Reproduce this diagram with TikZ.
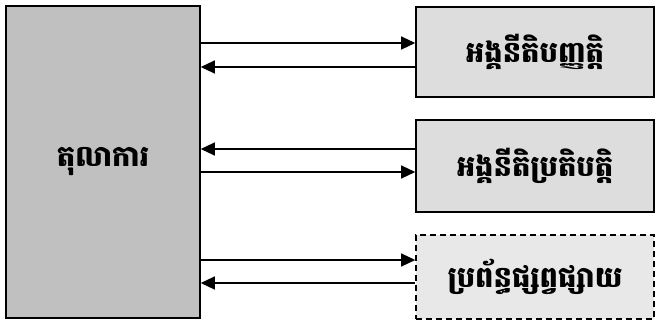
\documentclass[tikz,border=0pt]{standalone}
\usepackage{fontspec}
\newfontfamily\khmer[Script=Khmer]{Battambang}
\usetikzlibrary{arrows.meta}
\definecolor{leftgray}{HTML}{C0C0C0}
\definecolor{rightgray}{HTML}{DDDDDD}
\definecolor{mediagray}{HTML}{E8E8E8}
\tikzset{
  box/.style={draw=black, line width=1.6pt, inner sep=0pt, font=\khmer\bfseries\fontsize{29}{34}\selectfont},
  conn/.style={line width=1.3pt, -{Triangle[length=14pt,width=13pt]}},
}
\begin{document}
\begin{tikzpicture}[x=1pt,y=-1pt]
\useasboundingbox (0,0) rectangle (656,324);
\node[box, fill=leftgray, minimum width=194pt, minimum height=312pt] (court) at (103,162) {តុលាការ};
\node[box, fill=rightgray, minimum width=238pt, minimum height=90pt] (leg) at (535,52) {អង្គនីតិបញ្ញត្តិ};
\node[box, fill=rightgray, minimum width=238pt, minimum height=92pt] (exe) at (535,166) {អង្គនីតិប្រតិបត្តិ};
\node[box, dashed, dash pattern=on 6pt off 4pt, fill=mediagray, minimum width=238pt, minimum height=84pt] (med) at (535,277) {ប្រព័ន្ធផ្សព្វផ្សាយ};
\draw[conn] (court.east |- 0,43) -- (leg.west |- 0,43);
\draw[conn] (leg.west |- 0,67) -- (court.east |- 0,67);
\draw[conn] (exe.west |- 0,149) -- (court.east |- 0,149);
\draw[conn] (court.east |- 0,172) -- (exe.west |- 0,172);
\draw[conn] (court.east |- 0,260) -- (med.west |- 0,260);
\draw[conn] (med.west |- 0,283) -- (court.east |- 0,283);
\end{tikzpicture}
\end{document}
